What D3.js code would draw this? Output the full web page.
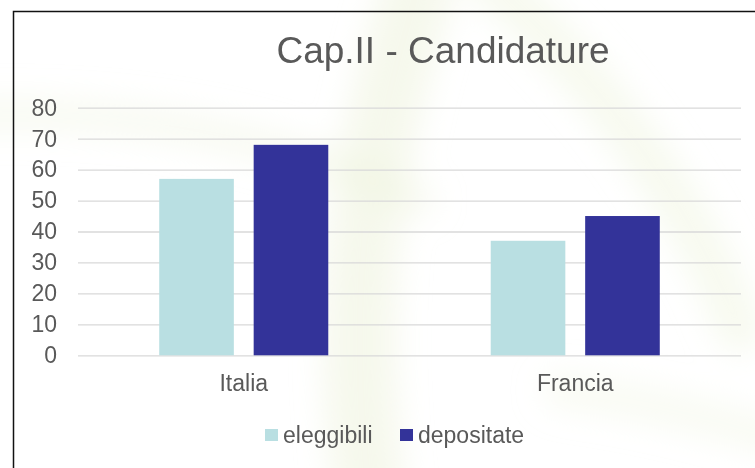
<!DOCTYPE html>
<html>
<head>
<meta charset="utf-8">
<script src="https://cdn.jsdelivr.net/npm/d3@7"></script>
<style>
  body { margin: 0; background: #fff; }
  svg { display: block; font-family: "Liberation Sans", Arial, sans-serif; }
</style>
</head>
<body>
<div id="chart"></div>
<script>
// data
var categories = ["Italia", "Francia"];
var seriesNames = ["eleggibili", "depositate"];
var eleggibili = [57, 37];
var depositate = [68, 45];
var yTicks = [0, 10, 20, 30, 40, 50, 60, 70, 80];
var seriesColors = ["#b9dfe2", "#333399"];

var width = 755, height = 468;
var textColor = "#595959";

let svg = d3.select("#chart")
    .append("svg")
    .attr("width", width)
    .attr("height", height);

// faint green swooshes in the slide background
let defs = svg.append("defs");
defs.append("filter")
    .attr("id", "blur")
    .attr("x", "-50%").attr("y", "-50%")
    .attr("width", "200%").attr("height", "200%")
    .append("feGaussianBlur")
    .attr("stdDeviation", 16);

let bg = svg.append("g").attr("filter", "url(#blur)").attr("fill", "none")
    .attr("stroke", "#eef3dc").attr("stroke-linecap", "round");

bg.append("path")
    .attr("d", "M 420 -20 C 380 120, 340 260, 370 500")
    .attr("stroke-width", 70).attr("opacity", 0.55);
bg.append("path")
    .attr("d", "M 490 -20 C 600 80, 690 200, 740 330")
    .attr("stroke-width", 45).attr("opacity", 0.45);
bg.append("path")
    .attr("d", "M -30 115 C 120 110, 260 130, 420 200")
    .attr("stroke-width", 30).attr("opacity", 0.4);
bg.append("path")
    .attr("d", "M 560 390 C 640 400, 720 420, 780 440")
    .attr("stroke-width", 35).attr("opacity", 0.35);

// frame of the chart area
svg.append("rect")
    .attr("x", 13.5)
    .attr("y", 11.5)
    .attr("width", 800)
    .attr("height", 500)
    .attr("fill", "none")
    .attr("stroke", "#111")
    .attr("stroke-width", 1.5);

// title
svg.append("text")
    .attr("x", 443)
    .attr("y", 63)
    .attr("text-anchor", "middle")
    .attr("fill", textColor)
    .style("font-size", "37px")
    .text("Cap.II - Candidature");

let x0 = d3.scaleBand()
    .domain(categories)
    .range([78, 741])
    .padding(0);

let x1 = d3.scaleBand()
    .domain(seriesNames)
    .range([0, x0.bandwidth()])
    .paddingInner(0.21)
    .paddingOuter(0.86);

let y = d3.scaleLinear()
    .domain([0, 80])
    .range([355.3, 107.7]);

// gridlines
let yAxis = d3.axisLeft(y)
    .tickValues(yTicks)
    .tickSize(-(741 - 78))
    .tickPadding(21);

let yg = svg.append("g")
    .attr("transform", "translate(78,0)")
    .call(yAxis);

yg.select(".domain").remove();
yg.selectAll(".tick line")
    .attr("stroke", "#d9d9d9")
    .attr("stroke-width", 1.3);
yg.selectAll(".tick text")
    .attr("fill", textColor)
    .style("font-size", "23px")
    .style("font-family", "'Liberation Sans', Arial, sans-serif");

// bars
let rows = categories.map((c, i) => {
    return { cat: c, values: [eleggibili[i], depositate[i]] };
});

let groups = svg.append("g")
    .selectAll("g")
    .data(rows)
    .enter().append("g")
    .attr("transform", (d) => "translate(" + x0(d.cat) + ",0)");

groups.selectAll("rect")
    .data((d) => d.values.map((v, j) => ({ name: seriesNames[j], value: v, color: seriesColors[j] })))
    .enter().append("rect")
    .attr("x", (d) => x1(d.name))
    .attr("y", (d) => y(d.value))
    .attr("width", x1.bandwidth())
    .attr("height", (d) => y(0) - y(d.value))
    .attr("fill", (d) => d.color);

// category axis
let xAxis = d3.axisBottom(x0).tickSize(0).tickPadding(19);
let xg = svg.append("g")
    .attr("transform", "translate(0," + y(0) + ")")
    .call(xAxis);
xg.select(".domain").remove();
xg.selectAll(".tick text")
    .attr("fill", textColor)
    .style("font-size", "23px")
    .style("font-family", "'Liberation Sans', Arial, sans-serif");

// legend
let legendX = [265, 400];
let legend = svg.append("g");
seriesNames.forEach((name, i) => {
    legend.append("rect")
        .attr("x", legendX[i])
        .attr("y", 429)
        .attr("width", 13)
        .attr("height", 12)
        .attr("fill", seriesColors[i]);
    legend.append("text")
        .attr("x", legendX[i] + 18)
        .attr("y", 443)
        .attr("fill", textColor)
        .style("font-size", "23px")
        .text(name);
});
</script>
</body>
</html>
